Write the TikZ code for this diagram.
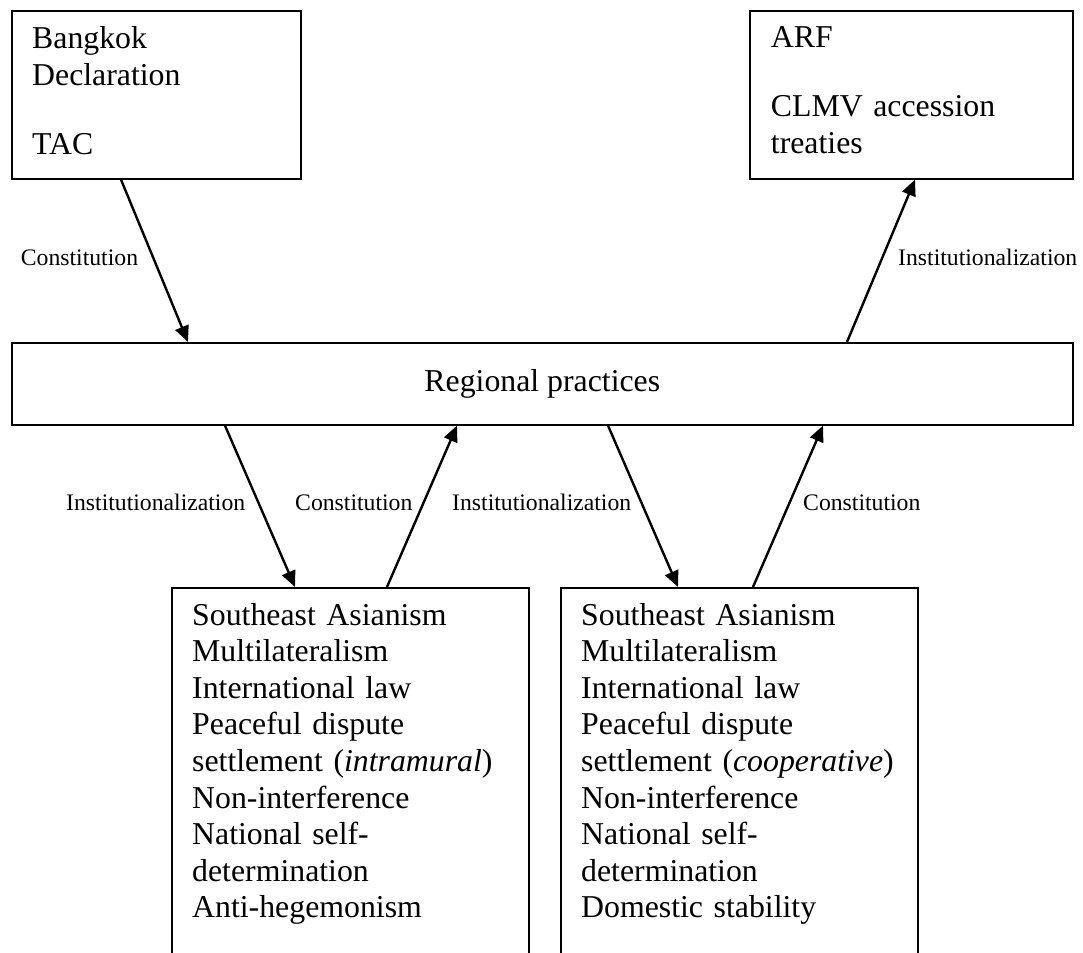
\documentclass[tikz,border=0pt]{standalone}
\usepackage{fontspec}
\setmainfont{Liberation Serif}
\usetikzlibrary{arrows.meta}

\tikzset{
  x=1pt, y=1pt,
  box/.style={draw, line width=1.6pt, inner sep=0pt, anchor=north west},
  bigtext/.style={font=\fontsize{31.8pt}{36.6pt}\selectfont},
  listtext/.style={bigtext, inner sep=0pt, anchor=base west, text width=340pt, align=left},
  flowlabel/.style={font=\fontsize{23.7pt}{28pt}\selectfont, inner sep=0pt, anchor=base west},
  arr/.style={line width=2.4pt, -{Triangle[length=16pt,width=14pt]}}
}

\begin{document}
\begin{tikzpicture}
  \useasboundingbox (0,0) rectangle (1083,-952);
  \clip (0,0) rectangle (1083,-952);

  % upper documents
  \node[box, minimum width=289pt, minimum height=168pt] (docs) at (11,-10) {};
  \node[listtext] (docstext) at (32,-49) {Bangkok\\Declaration\\[32.3pt]TAC};

  \node[box, minimum width=323pt, minimum height=168pt] (inst) at (749,-10) {};
  \node[listtext] (insttext) at (770.7,-48) {ARF\\[32.3pt]CLMV accession\\treaties};

  % central practices bar
  \node[box, bigtext, minimum width=1061pt, minimum height=82pt] (prac) at (11,-342) {Regional practices};

  % norm lists (open at the bottom edge)
  \node[box, minimum width=357pt, minimum height=420pt] (normsA) at (171,-587) {};
  \node[listtext] (normsAtext) at (192,-625) {Southeast Asianism\\Multilateralism\\International law\\Peaceful dispute\\settlement (\textit{intramural})\\Non-interference\\National self-\\determination\\Anti-hegemonism};

  \node[box, minimum width=357pt, minimum height=420pt] (normsB) at (560,-587) {};
  \node[listtext] (normsBtext) at (581,-625) {Southeast Asianism\\Multilateralism\\International law\\Peaceful dispute\\settlement (\textit{cooperative})\\Non-interference\\National self-\\determination\\Domestic stability};

  % connectors
  \draw[arr] ([xshift=110pt]docs.south west) -- ([xshift=177pt]prac.north west);
  \draw[arr] ([xshift=836pt]prac.north west) -- ([xshift=166pt]inst.south west);
  \draw[arr] ([xshift=214pt]prac.south west) -- ([xshift=124pt]normsA.north west);
  \draw[arr] ([xshift=216pt]normsA.north west) -- ([xshift=446pt]prac.south west);
  \draw[arr] ([xshift=597pt]prac.south west) -- ([xshift=118pt]normsB.north west);
  \draw[arr] ([xshift=193pt]normsB.north west) -- ([xshift=812pt]prac.south west);

  % connector labels
  \node[flowlabel] (l1) at (20.7,-265) {Constitution};
  \node[flowlabel] (l2) at (898,-265) {Institutionalization};
  \node[flowlabel] (l3) at (66,-510) {Institutionalization};
  \node[flowlabel] (l4) at (295,-510) {Constitution};
  \node[flowlabel] (l5) at (452,-510) {Institutionalization};
  \node[flowlabel] (l6) at (803,-510) {Constitution};
\end{tikzpicture}
\end{document}
